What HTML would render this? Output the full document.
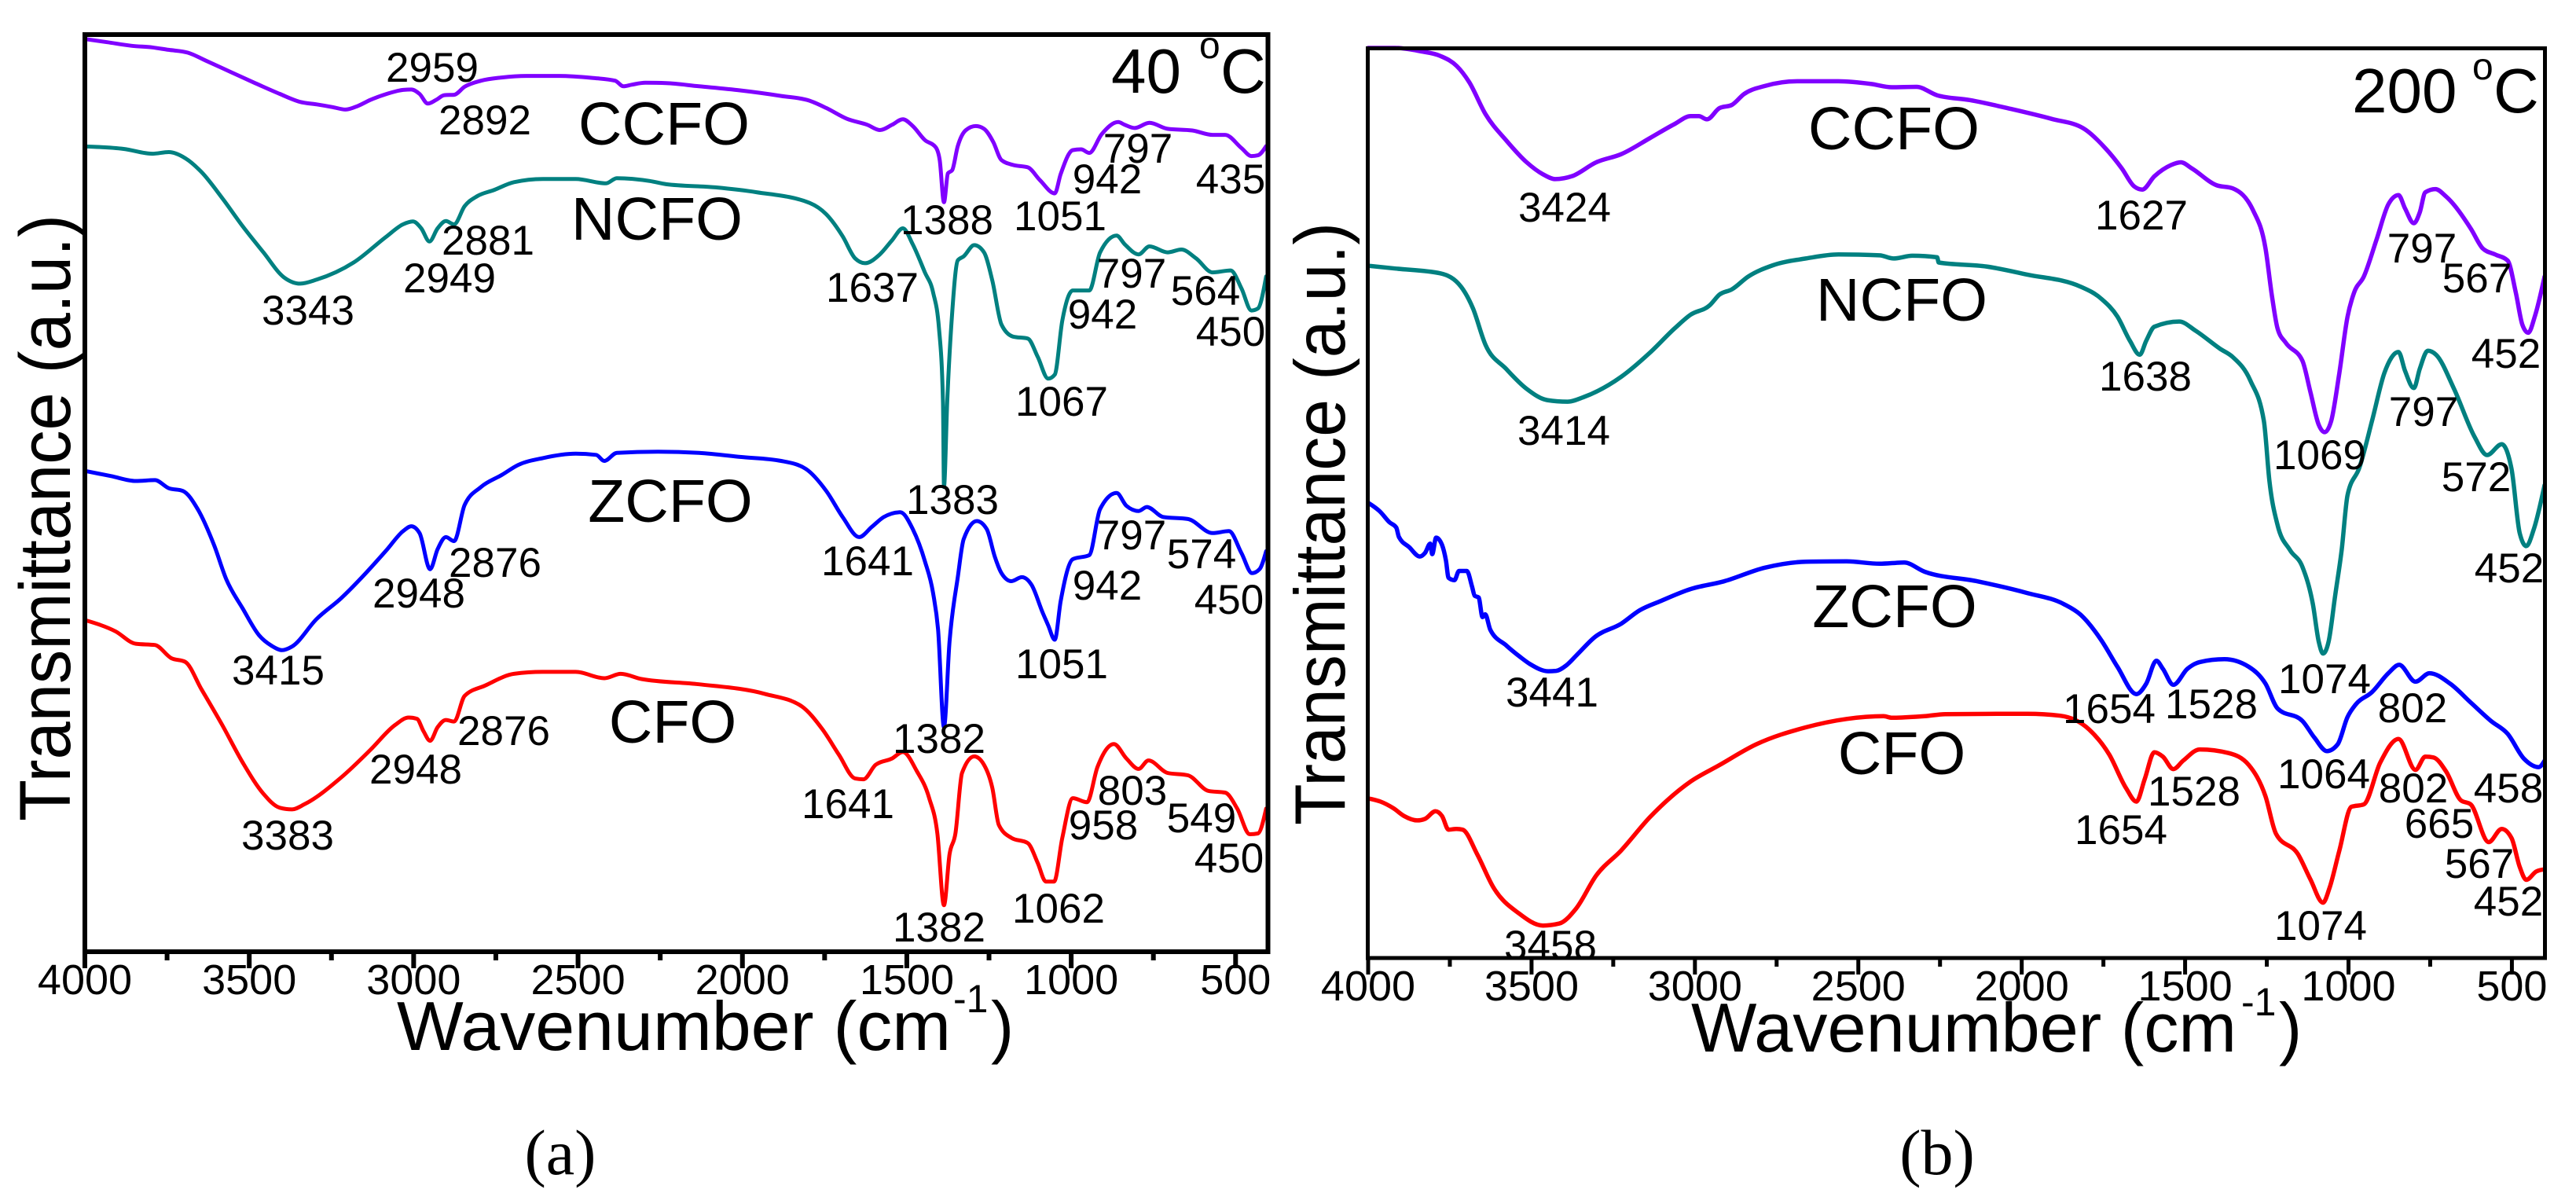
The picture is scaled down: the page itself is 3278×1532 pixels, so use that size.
<!DOCTYPE html>
<html>
<head>
<meta charset="utf-8">
<title>FTIR spectra at 40 °C and 200 °C</title>
<style>
html,body{margin:0;padding:0;background:#fff;}
svg{display:block;}
text{font-family:"Liberation Sans",sans-serif;fill:#000;}
.pk{font-size:53px;text-anchor:middle;}
.nm{font-size:77px;text-anchor:middle;}
.cap{font-family:"Liberation Serif",serif;font-size:82px;text-anchor:middle;}
</style>
</head>
<body>
<svg id="chart" xmlns="http://www.w3.org/2000/svg" width="3278" height="1532" viewBox="0 0 3278 1532">
<rect x="0" y="0" width="3278" height="1532" fill="#fff"/>
<g id="panelA"></g>
<g id="panelB"></g>

<g>
<text transform="translate(89,1045) rotate(-90)" font-size="92" textLength="772" lengthAdjust="spacingAndGlyphs">Transmittance (a.u.)</text>
<text x="505" y="1336" font-size="88" textLength="705" lengthAdjust="spacingAndGlyphs">Wavenumber (cm</text>
<text x="1213" y="1288" font-size="50">-1</text>
<text x="1261" y="1336" font-size="88">)</text>
<text x="1414" y="118" font-size="80">40</text>
<text x="1526" y="74" font-size="48">o</text>
<text x="1553" y="118" font-size="80">C</text>
<text class="cap" x="713" y="1494">(a)</text>
<text class="nm" x="845" y="184">CCFO</text>
<text class="nm" x="836" y="305">NCFO</text>
<text class="nm" x="853" y="664">ZCFO</text>
<text class="nm" x="856" y="945">CFO</text>
<text class="pk" x="550" y="104">2959</text>
<text class="pk" x="617" y="171">2892</text>
<text class="pk" x="1205" y="298">1388</text>
<text class="pk" x="1349" y="293">1051</text>
<text class="pk" x="1409" y="246">942</text>
<text class="pk" x="1448" y="207">797</text>
<text class="pk" x="1566" y="246">435</text>
<text class="pk" x="621" y="324">2881</text>
<text class="pk" x="572" y="372">2949</text>
<text class="pk" x="392" y="413">3343</text>
<text class="pk" x="1110" y="384">1637</text>
<text class="pk" x="1440" y="366">797</text>
<text class="pk" x="1403" y="418">942</text>
<text class="pk" x="1534" y="388">564</text>
<text class="pk" x="1566" y="440">450</text>
<text class="pk" x="1351" y="529">1067</text>
<text class="pk" x="1212" y="654">1383</text>
<text class="pk" x="1440" y="699">797</text>
<text class="pk" x="1529" y="723">574</text>
<text class="pk" x="1409" y="763">942</text>
<text class="pk" x="1564" y="781">450</text>
<text class="pk" x="630" y="734">2876</text>
<text class="pk" x="533" y="773">2948</text>
<text class="pk" x="1104" y="732">1641</text>
<text class="pk" x="354" y="871">3415</text>
<text class="pk" x="1351" y="863">1051</text>
<text class="pk" x="641" y="948">2876</text>
<text class="pk" x="529" y="997">2948</text>
<text class="pk" x="1195" y="958">1382</text>
<text class="pk" x="1079" y="1041">1641</text>
<text class="pk" x="366" y="1081">3383</text>
<text class="pk" x="1441" y="1024">803</text>
<text class="pk" x="1404" y="1068">958</text>
<text class="pk" x="1529" y="1059">549</text>
<text class="pk" x="1564" y="1110">450</text>
<text class="pk" x="1347" y="1174">1062</text>
<text class="pk" x="1195" y="1198">1382</text>
</g>

<g>
<text transform="translate(1711,1050) rotate(-90)" font-size="91" textLength="767" lengthAdjust="spacingAndGlyphs">Transmittance (a.u.)</text>
<text x="2152" y="1338" font-size="88" textLength="694" lengthAdjust="spacingAndGlyphs">Wavenumber (cm</text>
<text x="2852" y="1292" font-size="50">-1</text>
<text x="2900" y="1338" font-size="88">)</text>
<text x="2993" y="143" font-size="80">200</text>
<text x="3146" y="101" font-size="48">o</text>
<text x="3173" y="143" font-size="80">C</text>
<text class="cap" x="2465" y="1494">(b)</text>
<text class="nm" x="2410" y="190">CCFO</text>
<text class="nm" x="2420" y="408">NCFO</text>
<text class="nm" x="2411" y="798">ZCFO</text>
<text class="nm" x="2420" y="985">CFO</text>
<text class="pk" x="1991" y="282">3424</text>
<text class="pk" x="2725" y="292">1627</text>
<text class="pk" x="3082" y="334">797</text>
<text class="pk" x="3152" y="372">567</text>
<text class="pk" x="3189" y="468">452</text>
<text class="pk" x="2730" y="497">1638</text>
<text class="pk" x="1990" y="566">3414</text>
<text class="pk" x="3084" y="542">797</text>
<text class="pk" x="2952" y="597">1069</text>
<text class="pk" x="3151" y="625">572</text>
<text class="pk" x="3193" y="741">452</text>
<text class="pk" x="1975" y="899">3441</text>
<text class="pk" x="2958" y="882">1074</text>
<text class="pk" x="2684" y="920">1654</text>
<text class="pk" x="2814" y="914">1528</text>
<text class="pk" x="3070" y="919">802</text>
<text class="pk" x="2957" y="1003">1064</text>
<text class="pk" x="3192" y="1021">458</text>
<text class="pk" x="2792" y="1025">1528</text>
<text class="pk" x="3071" y="1021">802</text>
<text class="pk" x="3104" y="1066">665</text>
<text class="pk" x="2699" y="1074">1654</text>
<text class="pk" x="3155" y="1117">567</text>
<text class="pk" x="3192" y="1165">452</text>
<text class="pk" x="2953" y="1196">1074</text>
<text class="pk" x="1973" y="1221">3458</text>
</g>
</svg>

<script>
// Tick values
const majorTicks = [4000,3500,3000,2500,2000,1500,1000,500];
const minorTicks = [3750,3250,2750,2250,1750,1250,750];

// Panel (a) 40 C: wavenumber (cm-1) and transmittance (a.u.)
const ccfo40Wn = [4000,3932,3857,3795,3745,3687,3632,3557,3482,3407,3345,3295,3245,3207,3170,3132,3082,3032,3007,2982,2957,2932,2907,2877,2845,2795,2732,2657,2557,2457,2387,2362,2337,2295,2232,2132,2007,1882,1795,1745,1682,1620,1582,1545,1512,1482,1445,1412,1400,1387,1375,1362,1345,1320,1290,1265,1237,1212,1177,1132,1095,1050,1032,995,970,945,907,857,837,807,762,707,632,570,532,482,452,432,407];
const ccfo40T = [2272,2264,2255,2251,2245,2238,2218,2190,2162,2135,2115,2109,2102,2096,2105,2120,2135,2145,2146,2135,2111,2120,2132,2133,2153,2168,2176,2180,2180,2175,2168,2154,2158,2163,2162,2154,2144,2130,2118,2100,2073,2058,2045,2058,2072,2055,2020,2002,1970,1865,1937,1945,2005,2045,2055,2048,2015,1970,1958,1952,1920,1887,1935,1995,1997,1988,2035,2065,2058,2050,2063,2048,2044,2033,2033,2000,1980,1982,2005];

const ncfo40Wn = [4000,3882,3795,3745,3695,3645,3582,3520,3457,3395,3345,3295,3182,3082,3032,3002,2977,2952,2927,2902,2877,2845,2807,2757,2695,2607,2507,2415,2382,2282,2232,2082,1957,1795,1745,1695,1657,1627,1582,1545,1512,1482,1445,1420,1402,1390,1387,1377,1362,1345,1327,1295,1265,1240,1212,1177,1132,1102,1070,1050,1027,995,945,912,862,837,795,762,707,665,620,570,515,482,452,432,407];
const ncfo40T = [2004,1998,1986,1990,1975,1940,1875,1805,1740,1678,1662,1672,1715,1780,1810,1817,1800,1767,1800,1818,1810,1855,1880,1895,1915,1923,1923,1912,1925,1918,1910,1902,1890,1863,1835,1780,1725,1713,1735,1770,1800,1760,1690,1640,1550,1370,1155,1370,1590,1720,1730,1758,1740,1670,1560,1530,1525,1480,1425,1435,1570,1645,1645,1740,1782,1760,1735,1755,1740,1747,1725,1690,1695,1650,1595,1600,1680];

const zcfo40Wn = [4000,3920,3845,3787,3745,3702,3657,3607,3570,3520,3470,3432,3400,3370,3295,3220,3157,3082,3032,3007,2982,2950,2927,2902,2877,2845,2795,2732,2682,2607,2507,2445,2420,2382,2257,2132,2007,1882,1807,1745,1695,1645,1607,1570,1520,1482,1445,1420,1405,1387,1370,1345,1327,1287,1257,1232,1212,1182,1150,1120,1087,1070,1050,1032,995,945,912,862,832,795,770,720,645,570,520,482,450,427,407];
const zcfo40T = [1195,1182,1170,1172,1152,1145,1100,1010,925,852,785,759,748,757,826,878,930,998,1045,1057,1040,950,1000,1030,1020,1110,1155,1185,1210,1227,1238,1235,1220,1240,1243,1240,1230,1220,1200,1145,1080,1030,1055,1080,1092,1050,970,890,800,556,769,930,1025,1070,1050,980,940,920,930,910,842,810,774,870,975,985,1100,1140,1108,1095,1105,1080,1075,1040,1045,990,940,950,995];

const cfo40Wn = [4000,3907,3845,3787,3737,3695,3645,3582,3520,3457,3407,3370,3332,3220,3132,3057,3015,2990,2970,2950,2927,2902,2877,2845,2782,2695,2607,2507,2420,2370,2307,2132,1932,1820,1757,1707,1657,1632,1595,1545,1512,1470,1432,1407,1387,1370,1352,1332,1295,1265,1240,1220,1182,1132,1102,1077,1052,1027,995,952,920,870,832,795,765,707,645,582,532,495,457,432,407];
const cfo40T = [823,795,764,761,728,719,650,561,468,390,355,351,364,431,499,561,580,577,546,522,556,574,570,634,660,689,694,694,678,689,676,663,639,608,551,488,428,426,462,478,494,447,379,291,112,239,291,442,483,462,405,312,280,267,218,171,171,280,379,369,457,514,478,452,473,442,436,397,393,353,289,291,353];

// Panel (b) 200 C: wavenumber (cm-1) and transmittance (a.u.)
const ccfo200Wn = [4000,3917,3842,3779,3729,3691,3641,3578,3515,3465,3427,3377,3302,3226,3138,3063,3013,2988,2963,2925,2887,2850,2787,2686,2561,2460,2397,2322,2259,2159,2033,1908,1812,1744,1694,1656,1631,1594,1543,1513,1480,1405,1355,1292,1254,1234,1217,1192,1141,1116,1091,1073,1053,1028,1003,983,953,915,878,847,827,800,782,765,734,702,626,589,551,513,488,468,450,430,400];
const ccfo200T = [2269,2269,2261,2249,2224,2184,2104,2039,1984,1954,1942,1949,1984,2004,2044,2079,2099,2099,2091,2119,2127,2154,2174,2186,2186,2179,2171,2172,2151,2139,2117,2092,2069,2019,1969,1924,1916,1949,1977,1984,1969,1927,1919,1864,1769,1649,1569,1534,1489,1409,1329,1311,1339,1459,1599,1659,1699,1789,1879,1902,1869,1832,1859,1909,1917,1899,1819,1769,1754,1739,1659,1579,1559,1599,1699];

const ncfo200Wn = [4000,3917,3779,3716,3679,3641,3578,3515,3452,3390,3339,3226,3138,3063,3013,2955,2925,2887,2837,2762,2661,2561,2435,2392,2335,2259,2254,2108,1983,1820,1757,1707,1669,1639,1619,1594,1518,1468,1393,1355,1300,1259,1242,1217,1179,1141,1109,1091,1078,1061,1041,1021,1003,966,928,890,847,827,800,782,757,732,677,614,576,531,501,476,456,433,400];
const ncfo200T = [1726,1719,1707,1674,1619,1529,1469,1419,1391,1387,1399,1449,1509,1569,1604,1627,1654,1667,1699,1727,1744,1754,1752,1744,1751,1747,1734,1724,1704,1674,1644,1599,1539,1504,1539,1574,1587,1564,1519,1499,1439,1339,1189,1079,1017,975,882,788,759,788,903,1017,1154,1224,1339,1459,1511,1464,1421,1469,1514,1504,1419,1299,1254,1281,1219,1059,1027,1069,1179];

const zcfo200Wn = [4000,3966,3934,3914,3906,3874,3842,3826,3810,3804,3792,3774,3762,3754,3736,3722,3698,3682,3674,3662,3650,3642,3626,3577,3537,3505,3449,3425,3393,3361,3305,3225,3169,3105,3013,2912,2787,2661,2536,2435,2360,2297,2134,1983,1870,1820,1757,1707,1649,1619,1588,1568,1536,1493,1455,1380,1305,1254,1217,1141,1104,1066,1033,1003,978,928,878,845,795,752,689,626,564,513,463,418,400];
const zcfo200T = [1135,1115,1086,1073,1050,1024,1001,1010,1033,1007,1048,1030,991,948,942,965,965,926,903,899,850,857,818,779,752,733,715,716,730,756,801,834,867,890,920,939,973,988,989,983,986,963,939,910,882,856,793,726,658,684,741,721,681,721,738,745,726,684,622,591,549,516,533,601,632,663,710,731,689,710,684,637,591,559,497,476,492];

const cfo200Wn = [4000,3962,3922,3890,3850,3826,3794,3774,3754,3730,3711,3666,3616,3540,3465,3415,3364,3302,3226,3138,3013,2925,2812,2661,2536,2423,2397,2297,2234,1983,1882,1794,1732,1681,1649,1624,1594,1568,1536,1506,1455,1367,1305,1254,1222,1154,1116,1078,1058,1028,991,953,903,847,795,765,740,702,656,626,571,531,501,476,456,425,400];
const cfo200T = [398,390,373,354,343,347,366,354,320,322,320,258,175,112,81,86,123,206,268,351,440,481,533,575,596,603,599,603,608,609,604,570,507,424,390,445,513,502,471,492,520,511,481,403,310,258,195,138,175,268,377,383,487,546,469,502,500,466,393,383,289,322,299,227,195,216,221];

const svgNS = 'http://www.w3.org/2000/svg';
const panelASeries = [
  {key:'ccfo', color:'#8000ff', wn:ccfo40Wn, t:ccfo40T},
  {key:'ncfo', color:'#008080', wn:ncfo40Wn, t:ncfo40T},
  {key:'zcfo', color:'#0000ff', wn:zcfo40Wn, t:zcfo40T},
  {key:'cfo',  color:'#ff0000', wn:cfo40Wn,  t:cfo40T}
];
const panelBSeries = [
  {key:'ccfo', color:'#8000ff', wn:ccfo200Wn, t:ccfo200T},
  {key:'ncfo', color:'#008080', wn:ncfo200Wn, t:ncfo200T},
  {key:'zcfo', color:'#0000ff', wn:zcfo200Wn, t:zcfo200T},
  {key:'cfo',  color:'#ff0000', wn:cfo200Wn,  t:cfo200T}
];

function makeEl(tag, attrs, parent){
  const el = document.createElementNS(svgNS, tag);
  for (const k in attrs) el.setAttribute(k, attrs[k]);
  parent.appendChild(el);
  return el;
}

// Monotone cubic path through points whose x values increase
function smoothPath(xs, ys){
  const n = xs.length;
  const h = [], s = [], m = new Array(n);
  for (let i = 0; i < n - 1; i++){
    h[i] = Math.max(xs[i+1] - xs[i], 0.01);
    s[i] = (ys[i+1] - ys[i]) / h[i];
  }
  for (let i = 1; i < n - 1; i++){
    const p = (s[i-1] * h[i] + s[i] * h[i-1]) / (h[i-1] + h[i]);
    m[i] = (Math.sign(s[i-1]) + Math.sign(s[i])) * Math.min(Math.abs(s[i-1]), Math.abs(s[i]), 0.5 * Math.abs(p));
  }
  m[0] = (3 * s[0] - m[1]) / 2;
  m[n-1] = (3 * s[n-2] - m[n-2]) / 2;
  let d = 'M' + xs[0].toFixed(1) + ' ' + ys[0].toFixed(1);
  for (let i = 0; i < n - 1; i++){
    const c = h[i] / 3;
    d += 'C' + (xs[i] + c).toFixed(1) + ' ' + (ys[i] + m[i] * c).toFixed(1) + ' ' + (xs[i+1] - c).toFixed(1) + ' ' + (ys[i+1] - m[i+1] * c).toFixed(1) + ' ' + xs[i+1].toFixed(1) + ' ' + ys[i+1].toFixed(1);
  }
  return d;
}

function drawPanel(opts){
  const g = document.getElementById(opts.id);
  const xScale = wn => opts.left + (opts.wnMax - wn) / (opts.wnMax - opts.wnMin) * (opts.right - opts.left);
  const yScale = t => opts.bottom - t / opts.tMax * (opts.bottom - opts.top);

  opts.series.forEach(s => {
    const d = smoothPath(s.wn.map(xScale), s.t.map(yScale));
    const path = makeEl('path', {d:d, fill:'none', stroke:s.color, 'stroke-width':opts.curveWidth, 'stroke-linejoin':'round', 'stroke-linecap':'round'}, g);
    
    
  });

  const sp = opts.spine;
  [[sp.l,sp.t,sp.r,sp.t,'top-spine'],
   [sp.r,sp.t,sp.r,sp.b,'right-spine'],
   [sp.l,sp.b,sp.r,sp.b,'x-axis-line'],
   [sp.l,sp.t,sp.l,sp.b,'y-axis-line']].forEach(a => {
    const ln = makeEl('line', {x1:a[0], y1:a[1], x2:a[2], y2:a[3], stroke:'#000', 'stroke-width':opts.spineWidth, 'stroke-linecap':'square'}, g);
    
    
  });

  majorTicks.forEach(v => {
    const x = xScale(v);
    const tk = makeEl('line', {x1:x, y1:sp.b, x2:x, y2:sp.b+21, stroke:'#000', 'stroke-width':opts.spineWidth}, g);
    
    
    const lb = makeEl('text', {x:x, y:opts.tickBaseline, 'font-size':54, 'text-anchor':'middle'}, g);
    lb.textContent = String(v);
    
    
  });
  minorTicks.forEach(v => {
    const x = xScale(v);
    const tk = makeEl('line', {x1:x, y1:sp.b, x2:x, y2:sp.b+11, stroke:'#000', 'stroke-width':opts.spineWidth}, g);
    
    
  });
}

drawPanel({id:'panelA', suffix:'a', series:panelASeries, left:108, right:1611, top:43, bottom:1209, wnMax:4000, wnMin:407.5, tMax:2285, tickBaseline:1265, curveWidth:5, spineWidth:6, spine:{l:108,r:1613.5,t:44,b:1211}});
drawPanel({id:'panelB', suffix:'b', series:panelBSeries, left:1741, right:3238, top:61, bottom:1219, wnMax:4000, wnMin:400, tMax:2269, tickBaseline:1273, curveWidth:5.5, spineWidth:5, spine:{l:1740.5,r:3238.5,t:61.5,b:1219}});
</script>
</body>
</html>
